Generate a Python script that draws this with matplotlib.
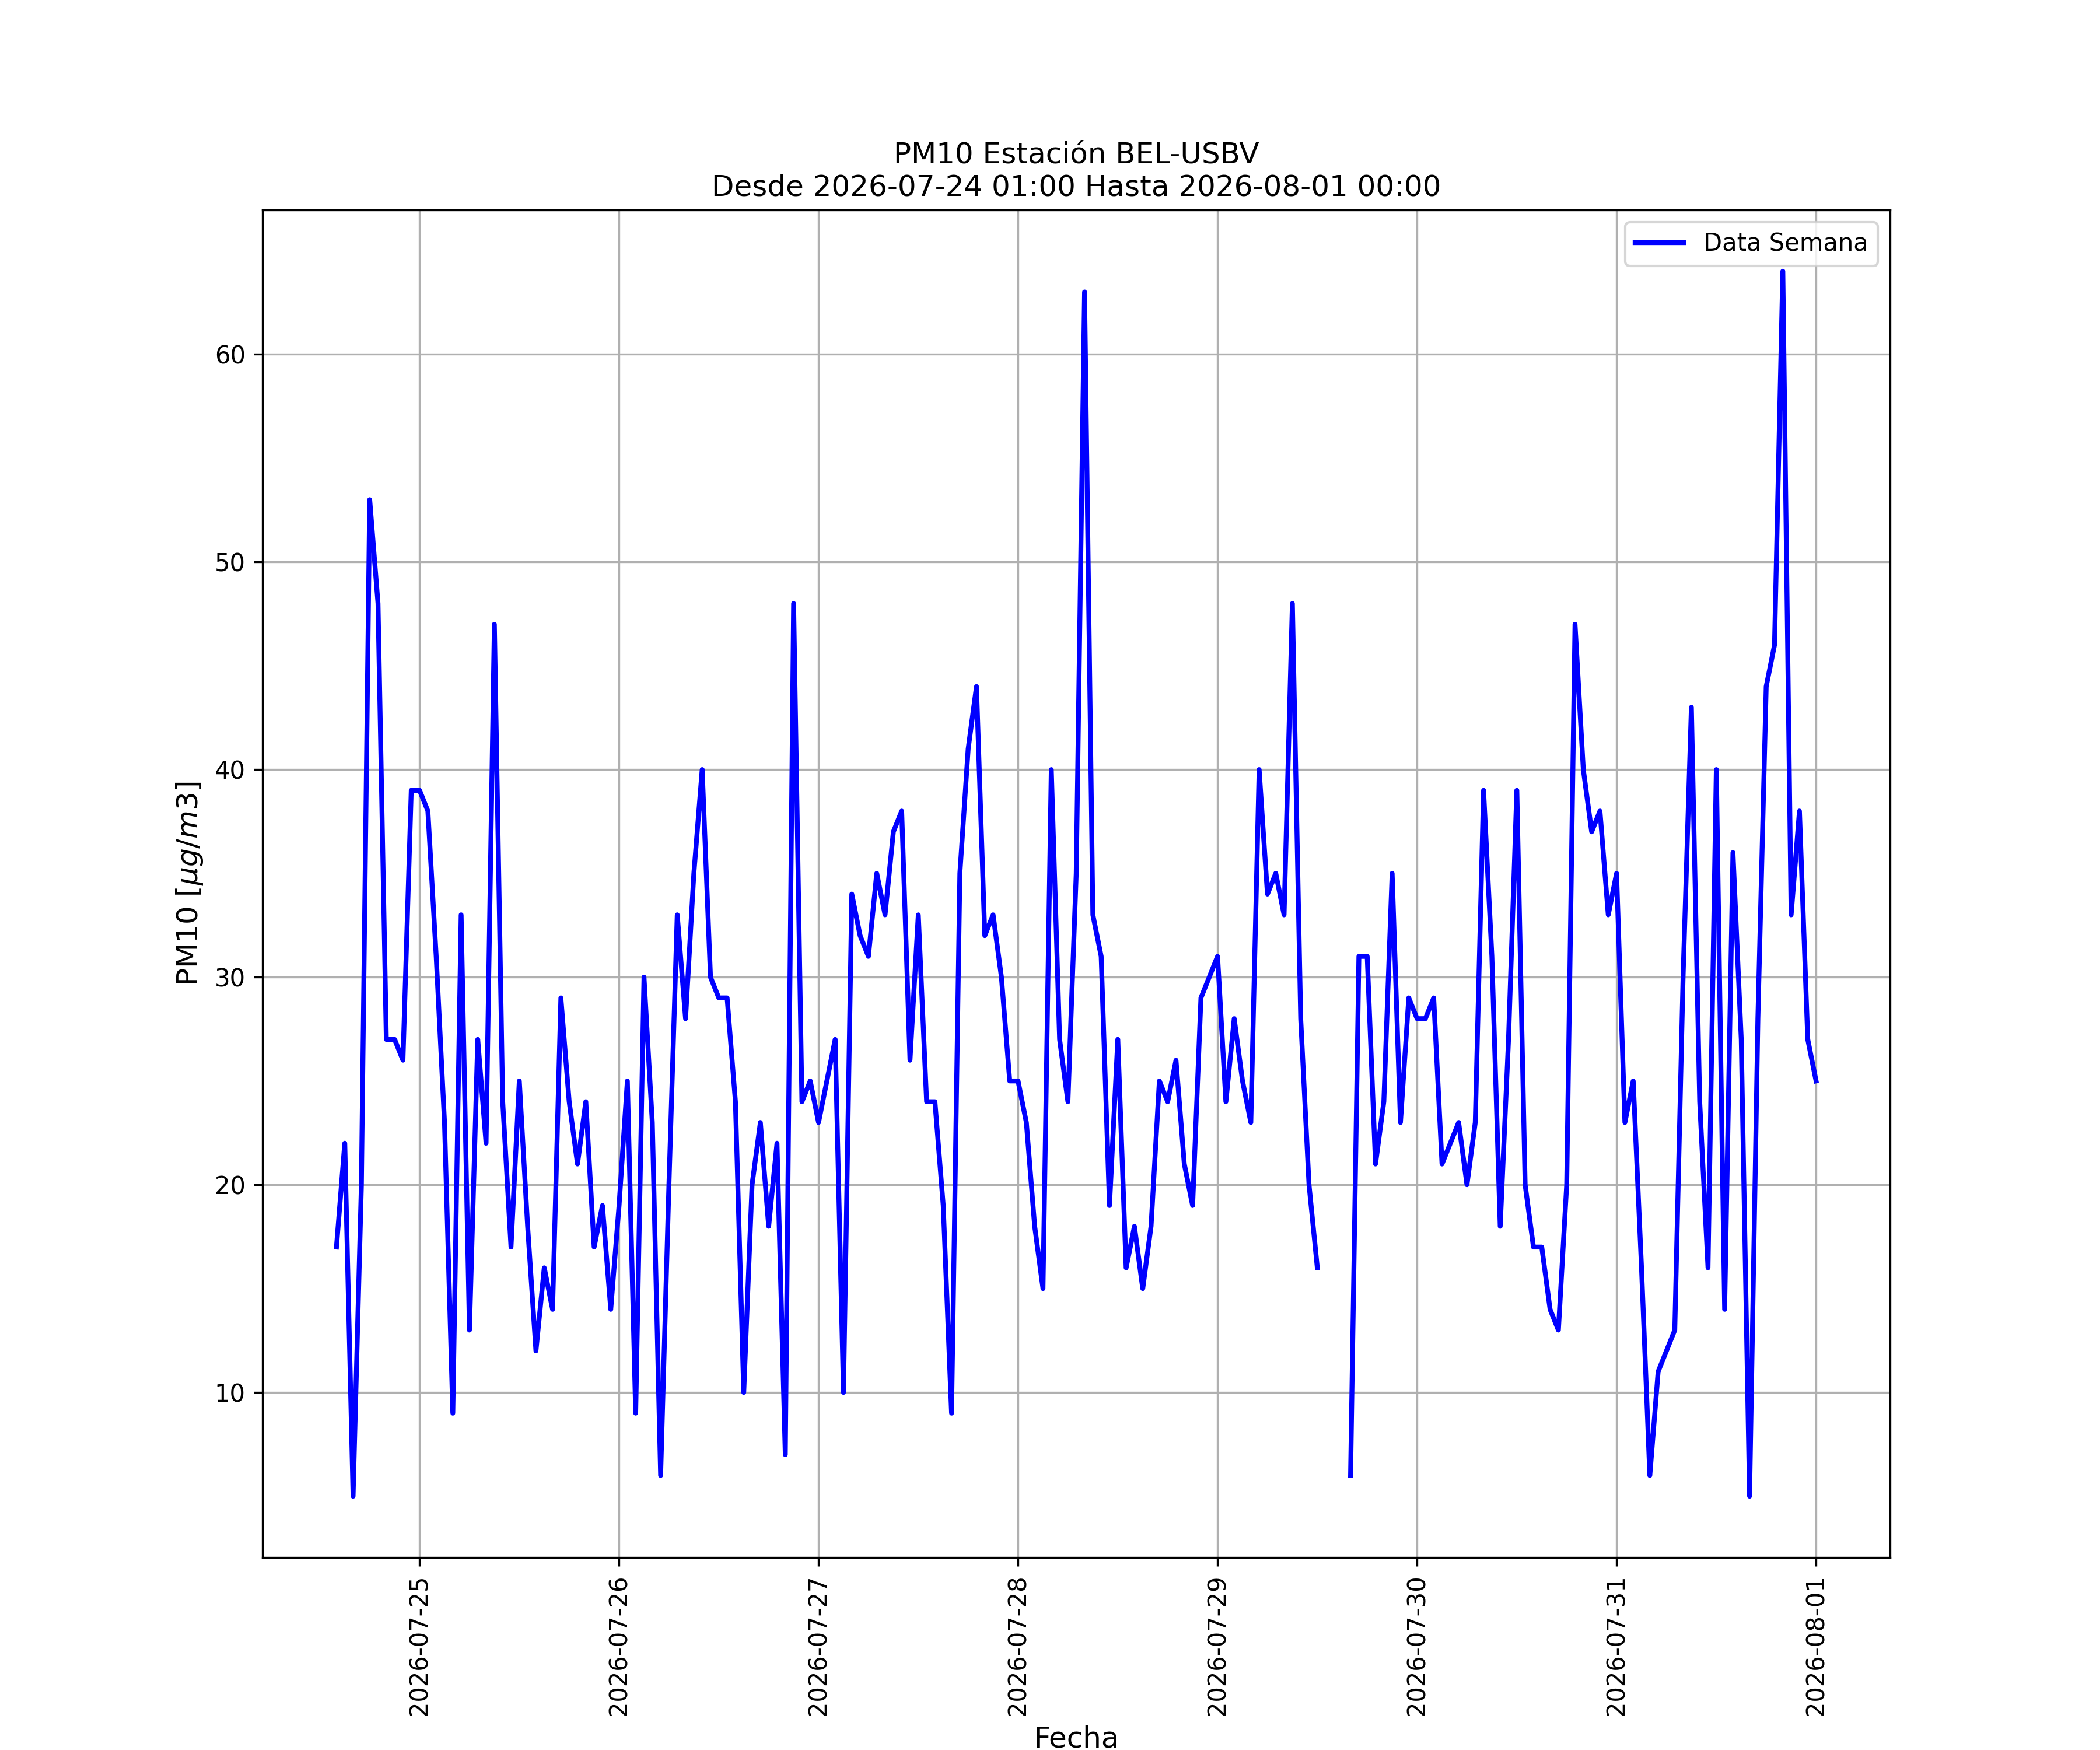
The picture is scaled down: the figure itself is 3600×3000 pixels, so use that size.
import numpy as np
import pandas as pd
import matplotlib
matplotlib.use('Agg')
import matplotlib.pyplot as plt
import matplotlib.dates as mdates

nan = np.nan

# Hourly PM10 values, one list per day (index = hour of the day)
d0724 = [nan] * 13 + [17, 22, 5, 20, 53, 48, 27, 27, 26, 39]  # hours 01..23
d0725 = [39, 38, 31, 23, 9, 33, 13, 27, 22, 47, 24, 17, 25, 18, 12, 16, 14, 29, 24, 21, 24, 17, 19, 14]
d0726 = [19, 25, 9, 30, 23, 6, 20, 33, 28, 35, 40, 30, 29, 29, 24, 10, 20, 23, 18, 22, 7, 48, 24, 25]
d0727 = [23, 25, 27, 10, 34, 32, 31, 35, 33, 37, 38, 26, 33, 24, 24, 19, 9, 35, 41, 44, 32, 33, 30, 25]
d0728 = [25, 23, 18, 15, 40, 27, 24, 35, 63, 33, 31, 19, 27, 16, 18, 15, 18, 25, 24, 26, 21, 19, 29, 30]
d0729 = [31, 24, 28, 25, 23, 40, 34, 35, 33, 48, 28, 20, 16, nan, nan, nan, 6, 31, 31, 21, 24, 35, 23, 29]
d0730 = [28, 28, 29, 21, 22, 23, 20, 23, 39, 31, 18, 27, 39, 20, 17, 17, 14, 13, 20, 47, 40, 37, 38, 33]
d0731 = [35, 23, 25, 16, 6, 11, 12, 13, 30, 43, 24, 16, 40, 14, 36, 27, 5, 28, 44, 46, 64, 33, 38, 27]
d0801 = [25]

pm10 = d0724 + d0725 + d0726 + d0727 + d0728 + d0729 + d0730 + d0731 + d0801
fechas = pd.date_range('2026-07-24 01:00', '2026-08-01 00:00', freq='h')

fig, ax = plt.subplots(figsize=(12, 10))
ax.plot(fechas, pm10, color='blue', linewidth=2, label='Data Semana')

ax.xaxis.set_major_locator(mdates.DayLocator())
ax.xaxis.set_major_formatter(mdates.DateFormatter('%Y-%m-%d'))
plt.xticks(rotation=90)

ax.set_title('PM10 Estación BEL-USBV\nDesde 2026-07-24 01:00 Hasta 2026-08-01 00:00', fontsize=12)
ax.set_xlabel('Fecha', fontsize=12)
ax.set_ylabel(r'PM10 [$\mu g/m3$]', fontsize=12)
ax.grid(True)
ax.legend(loc='upper right')

fig.savefig('out.png', dpi=300)
